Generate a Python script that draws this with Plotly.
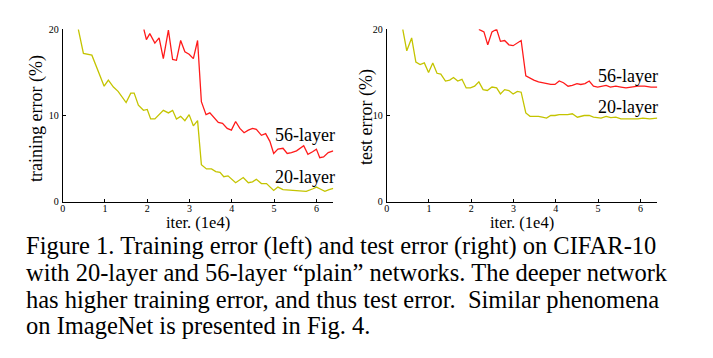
import plotly.graph_objects as go

# ---------------- data ----------------
train20_x = [0.37, 0.49, 0.69, 0.80, 0.98, 1.08, 1.20, 1.31, 1.50, 1.61, 1.69, 1.79, 1.91, 2.00,
             2.08, 2.18, 2.38, 2.50, 2.60, 2.69, 2.79, 2.89, 2.99, 3.09, 3.19, 3.28, 3.40, 3.52,
             3.62, 3.72, 3.81, 3.91, 4.09, 4.27, 4.39, 4.49, 4.58, 4.70, 4.82, 4.99, 5.09, 5.21,
             5.33, 5.49, 5.60, 5.76, 5.92, 6.00, 6.08, 6.20, 6.30, 6.40]
train20_y = [20.0, 17.2, 17.0, 15.7, 13.4, 14.1, 13.3, 12.8, 11.5, 12.6, 12.6, 11.2, 10.6, 10.7,
             9.6, 9.6, 10.6, 10.3, 10.6, 9.6, 9.9, 9.4, 10.1, 8.8, 9.4, 4.3, 3.8, 3.8,
             3.5, 3.4, 2.9, 3.0, 2.2, 2.8, 2.2, 2.3, 2.6, 2.1, 2.1, 1.3, 1.7, 1.4,
             1.35, 1.3, 1.2, 1.2, 1.5, 1.7, 1.5, 1.2, 1.4, 1.55]

train56_x = [1.92, 1.98, 2.06, 2.18, 2.28, 2.38, 2.50, 2.60, 2.69, 2.79, 2.89, 2.99, 3.09, 3.19,
             3.28, 3.39, 3.48, 3.58, 3.68, 3.78, 3.89, 3.99, 4.09, 4.19, 4.29, 4.39, 4.49, 4.58,
             4.70, 4.80, 4.90, 4.99, 5.09, 5.21, 5.31, 5.41, 5.53, 5.70, 5.80, 5.91, 6.00, 6.08,
             6.17, 6.28, 6.40]
train56_y = [20.0, 18.8, 19.5, 18.4, 19.0, 16.6, 19.9, 16.5, 16.4, 18.7, 17.4, 17.1, 16.6, 18.7,
             11.6, 10.1, 10.3, 9.7, 9.2, 9.1, 8.5, 8.3, 9.3, 8.5, 8.0, 8.3, 8.5, 8.4,
             7.7, 7.9, 7.0, 5.6, 6.1, 6.2, 5.6, 5.7, 5.9, 6.5, 5.5, 5.8, 6.1, 5.1,
             5.2, 5.7, 5.9]

test20_x = [0.38, 0.475, 0.59, 0.69, 0.79, 0.89, 0.99, 1.09, 1.19, 1.28, 1.39, 1.49, 1.58, 1.68,
            1.78, 1.88, 1.98, 2.08, 2.18, 2.28, 2.38, 2.49, 2.60, 2.69, 2.79, 2.89, 2.99, 3.09,
            3.18, 3.29, 3.39, 3.48, 3.59, 3.68, 3.78, 3.88, 3.98, 4.08, 4.28, 4.39, 4.51, 4.67,
            4.79, 4.89, 5.07, 5.19, 5.30, 5.42, 5.54, 5.78, 5.94, 6.06, 6.22, 6.40]
test20_y = [20.0, 17.5, 19.0, 16.2, 15.9, 16.1, 15.0, 16.1, 14.9, 14.8, 14.0, 14.1, 14.4, 14.0,
            14.2, 13.2, 13.2, 13.4, 13.9, 13.0, 12.9, 13.3, 13.2, 12.5, 13.0, 12.9, 12.5, 12.8,
            12.7, 10.3, 9.9, 9.9, 9.9, 9.8, 9.7, 10.0, 10.0, 10.1, 10.1, 10.2, 9.8, 10.0,
            10.0, 9.8, 9.7, 9.9, 9.75, 9.8, 9.6, 9.6, 9.6, 9.7, 9.6, 9.7]

test56_x = [2.18, 2.30, 2.39, 2.49, 2.60, 2.69, 2.79, 2.89, 2.99, 3.09, 3.18, 3.29, 3.39, 3.48,
            3.59, 3.68, 3.78, 3.88, 3.98, 4.08, 4.18, 4.29, 4.39, 4.50, 4.59, 4.69, 4.79, 4.89,
            4.99, 5.08, 5.19, 5.29, 5.42, 5.54, 5.66, 5.78, 5.94, 6.10, 6.25, 6.40]
test56_y = [20.0, 19.7, 18.2, 19.7, 20.0, 18.6, 18.7, 18.2, 18.1, 18.4, 18.7, 14.6, 14.3, 14.1,
            13.9, 13.8, 13.7, 13.6, 13.6, 14.0, 13.8, 13.4, 13.5, 13.7, 13.6, 13.7, 14.0, 13.4,
            13.3, 13.4, 13.5, 13.3, 13.4, 13.3, 13.2, 13.3, 13.4, 13.4, 13.3, 13.3]

x_ticks = [0, 1, 2, 3, 4, 5, 6]
y_ticks = [0, 10, 20]
series_names = ["20-layer", "56-layer"]
caption_lines = [
    "Figure 1. Training error (left) and test error (right) on CIFAR-10",
    "with 20-layer and 56-layer \u201cplain\u201d networks. The deeper network",
    "has higher training error, and thus test error.  Similar phenomena",
    "on ImageNet is presented in Fig. 4.",
]

# ---------------- styling ----------------
# the page body has an 8px margin, so the figure is drawn at (8, 8)
OFF = 8
W, H = 713 - 2 * OFF, 358 - 2 * OFF
SERIF = "Liberation Serif, Times New Roman, serif"
OLIVE = "#c4c400"
RED = "#ff1a1a"

def px_x(p):
    return (p - OFF) / W

def px_y(p):
    return 1 - (p - OFF) / H

fig = go.Figure()
fig.add_trace(go.Scatter(x=train20_x, y=train20_y, mode="lines", line=dict(color=OLIVE, width=1.3),
                         name=series_names[0], xaxis="x", yaxis="y"))
fig.add_trace(go.Scatter(x=train56_x, y=train56_y, mode="lines", line=dict(color=RED, width=1.3),
                         name=series_names[1], xaxis="x", yaxis="y"))
fig.add_trace(go.Scatter(x=test20_x, y=test20_y, mode="lines", line=dict(color=OLIVE, width=1.3),
                         name=series_names[0], xaxis="x2", yaxis="y2"))
fig.add_trace(go.Scatter(x=test56_x, y=test56_y, mode="lines", line=dict(color=RED, width=1.3),
                         name=series_names[1], xaxis="x2", yaxis="y2"))

ax_common = dict(showline=True, linecolor="black", linewidth=1, showgrid=False, zeroline=False,
                 ticks="inside", ticklen=3, tickcolor="black", tickwidth=1, automargin=False,
                 tickfont=dict(family=SERIF, size=10, color="black"), fixedrange=True)

y_dom = [px_y(201.7), px_y(29.3)]
fig.update_layout(
    width=W, height=H, margin=dict(l=0, r=0, t=0, b=0, pad=0, autoexpand=False),
    paper_bgcolor="white", plot_bgcolor="white", showlegend=False,
    xaxis=dict(domain=[px_x(62.7), px_x(333.3)], range=[0, 6.4], tickvals=x_ticks, anchor="y",
               ticklabelstandoff=-3, **ax_common),
    yaxis=dict(domain=y_dom, range=[0, 20], tickvals=y_ticks, anchor="x", ticklabelstandoff=1, **ax_common),
    xaxis2=dict(domain=[px_x(386.7), px_x(657.3)], range=[0, 6.4], tickvals=x_ticks, anchor="y2",
                ticklabelstandoff=-3, **ax_common),
    yaxis2=dict(domain=y_dom, range=[0, 20], tickvals=y_ticks, anchor="x2", ticklabelstandoff=1, **ax_common),
)

ann = []
def add_text(text, x, y, size, xanchor="center", yanchor="middle", angle=0, align="left"):
    ann.append(dict(text=text, x=px_x(x), y=px_y(y), xref="paper", yref="paper", showarrow=False,
                    xanchor=xanchor, yanchor=yanchor, textangle=angle, align=align, borderpad=0,
                    font=dict(family=SERIF, size=size, color="black")))

# series labels
add_text(series_names[1], 336, 135.5, 18, xanchor="right")
add_text(series_names[0], 336, 176.5, 18, xanchor="right")
add_text(series_names[1], 659, 75.5, 18, xanchor="right")
add_text(series_names[0], 659, 107, 18, xanchor="right")
# axis titles
add_text("training error (%)", 36, 119, 18, angle=-90)
add_text("test error (%)", 367, 117, 18, angle=-90)
add_text("iter. (1e4)", 198, 222, 16.5)
add_text("iter. (1e4)", 522, 222, 16.5)
# caption
for i, line in enumerate(caption_lines):
    add_text(line, 25, 246 + i * 26.5, 24.5, xanchor="left")

fig.update_layout(annotations=ann)
fig.write_html("out.html")
